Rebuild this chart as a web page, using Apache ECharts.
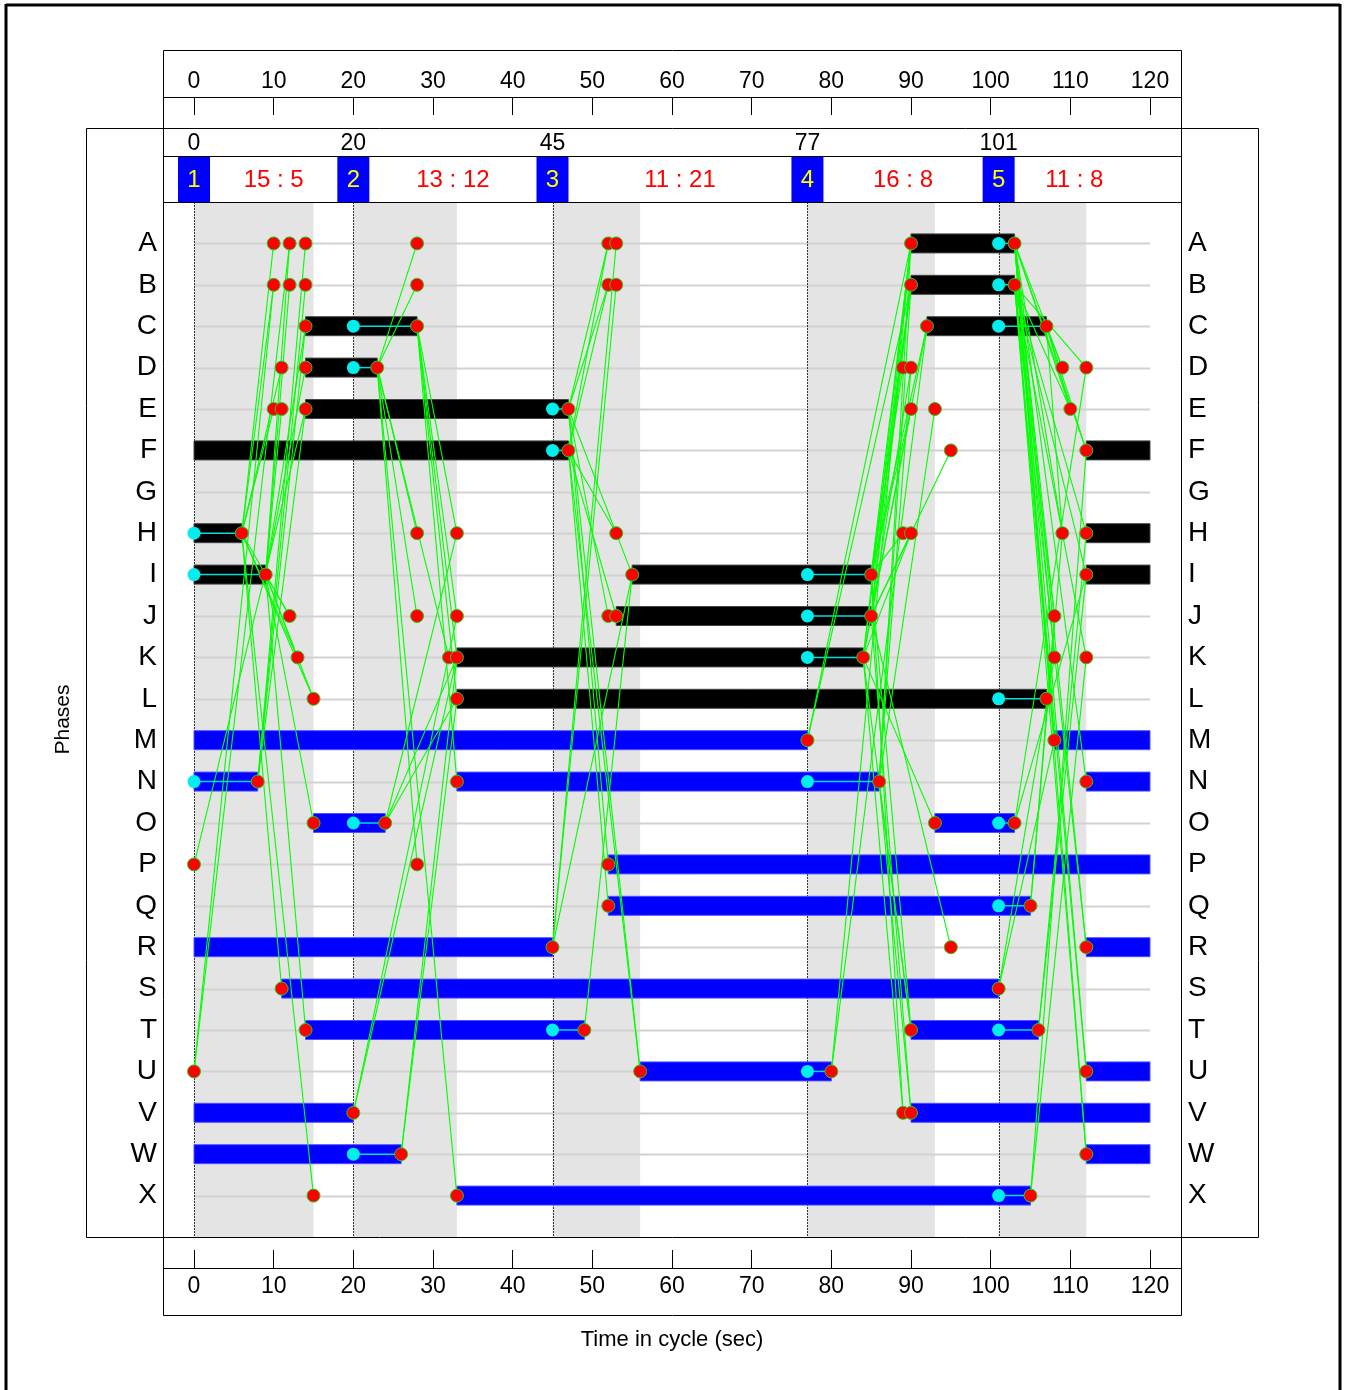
<!DOCTYPE html>
<html><head><meta charset="utf-8">
<script src="https://cdn.jsdelivr.net/npm/echarts/dist/echarts.min.js"></script>
<style>html,body{margin:0;padding:0;background:#fff}#c{width:1346px;height:1390px}</style>
</head><body><div id="c"></div>
<script>
// ---------------- DATA ----------------
const phases = ['A','B','C','D','E','F','G','H','I','J','K','L','M','N','O','P','Q','R','S','T','U','V','W','X'];
const trafficPhaseCount = 12; // A..L are traffic phases (black), M..X pedestrian (blue)
const cycleLength = 120;
const timeTicks = [0,10,20,30,40,50,60,70,80,90,100,110,120];
const stageNumbers = ['1','2','3','4','5'];
const stageStarts = [0,20,45,77,101];
const stageGreen = [15,13,11,16,11];
const stageIntergreen = [5,12,21,8,8];

// green periods per phase [phase, start, end]
const greenBars = [
  ['A',90,103],['B',90,103],
  ['C',14,28],['C',92,107],
  ['D',14,23],
  ['E',14,47],
  ['F',0,47],['F',112,120],
  ['H',0,6],['H',112,120],
  ['I',0,9],['I',55,85],['I',112,120],
  ['J',53,85],
  ['K',33,84],
  ['L',33,107],
  ['M',0,77],['M',108,120],
  ['N',0,8],['N',33,86],['N',112,120],
  ['O',15,24],['O',93,103],
  ['P',52,120],
  ['Q',52,105],
  ['R',0,45],['R',112,120],
  ['S',11,101],
  ['T',14,49],['T',90,106],
  ['U',56,80],['U',112,120],
  ['V',0,20],['V',90,120],
  ['W',0,26],['W',112,120],
  ['X',33,105]
];

// red event points per phase
const redDotTimes = [
  ['A',[10,12,14,28,52,53,90,103]],
  ['B',[10,12,14,28,52,53,90,103]],
  ['C',[14,28,92,107]],
  ['D',[11,14,23,89,90,109,112]],
  ['E',[10,11,14,47,90,93,110]],
  ['F',[47,95,112]],
  ['H',[6,28,33,53,89,90,109,112]],
  ['I',[9,55,85,112]],
  ['J',[12,28,33,52,53,85,108]],
  ['K',[13,32,33,84,108,112]],
  ['L',[15,33,107]],
  ['M',[77,108]],
  ['N',[8,33,86,112]],
  ['O',[15,24,93,103]],
  ['P',[0,28,52]],
  ['Q',[52,105]],
  ['R',[45,95,112]],
  ['S',[11,101]],
  ['T',[14,49,90,106]],
  ['U',[0,56,80,112]],
  ['V',[20,89,90]],
  ['W',[26,112]],
  ['X',[15,33,105]]
];

// cyan (stage start) to red (phase end) spans [phase, stageStart, phaseEnd]
const cyanSpans = [
  ['A',101,103],['B',101,103],['C',20,28],['C',101,107],['D',20,23],
  ['E',45,47],['F',45,47],['H',0,6],['I',0,9],['I',77,85],['J',77,85],
  ['K',77,84],['L',101,107],['N',0,8],['N',77,86],['O',20,24],['O',101,103],
  ['Q',101,105],['T',45,49],['T',101,106],['U',77,80],['W',20,26],['X',101,105]
];

// intergreen links [losingPhase, time, gainingPhase, time]
const links = [
  // stage 1 -> 2
  ['H',6,'A',10],['H',6,'B',10],['H',6,'E',10],['H',6,'D',11],['H',6,'J',12],['H',6,'K',13],
  ['H',6,'L',15],['H',6,'S',11],['H',6,'X',15],
  ['I',9,'A',12],['I',9,'B',12],['I',9,'E',11],['I',9,'C',14],['I',9,'D',14],['I',9,'J',12],
  ['I',9,'K',13],['I',9,'L',15],['I',9,'O',15],['I',9,'T',14],
  ['N',8,'A',14],['N',8,'B',14],['N',8,'C',14],['N',8,'E',14],
  ['U',0,'A',12],['U',0,'B',10],
  ['P',0,'E',14],
  // stage 2 -> 3
  ['D',23,'A',28],['D',23,'B',28],['D',23,'H',28],['D',23,'J',28],['D',23,'P',28],['D',23,'K',32],['D',23,'X',33],
  ['C',28,'H',33],['C',28,'J',33],['C',28,'K',33],['C',28,'L',33],['C',28,'N',33],
  ['O',24,'H',33],['O',24,'K',33],['O',24,'L',33],
  ['V',20,'J',33],['V',20,'K',33],
  ['W',26,'K',33],['W',26,'L',33],
  // stage 3
  ['E',47,'A',52],['E',47,'B',52],['F',47,'A',52],['F',47,'B',52],
  ['R',45,'A',53],['R',45,'B',53],
  ['E',47,'I',55],['F',47,'H',53],['E',47,'J',52],['F',47,'J',53],
  ['E',47,'P',52],['F',47,'Q',52],['E',47,'U',56],['F',47,'U',56],
  ['R',45,'I',55],['T',49,'I',55],
  // stage 4
  ['M',77,'A',90],['M',77,'B',90],
  ['U',80,'A',90],['U',80,'C',92],
  ['I',85,'A',90],['I',85,'B',90],['I',85,'D',89],['I',85,'E',90],['I',85,'H',89],['I',85,'C',92],['I',85,'T',90],['I',85,'V',89],
  ['J',85,'A',90],['J',85,'B',90],['J',85,'D',90],['J',85,'F',95],['J',85,'R',95],['J',85,'V',90],['J',85,'H',90],
  ['K',84,'A',90],['K',84,'B',90],['K',84,'C',92],['K',84,'E',90],['K',84,'H',90],['K',84,'O',93],['K',84,'T',90],['K',84,'V',89],
  ['N',86,'A',90],['N',86,'B',90],['N',86,'D',90],['N',86,'E',93],['N',86,'V',90],['N',86,'T',90],
  // stage 5
  ['A',103,'D',109],['A',103,'E',110],['A',103,'F',112],['A',103,'H',109],['A',103,'J',108],['A',103,'K',108],
  ['A',103,'M',108],['A',103,'N',112],['A',103,'R',112],['A',103,'U',112],['A',103,'W',112],
  ['B',103,'D',112],['B',103,'E',110],['B',103,'H',112],['B',103,'I',112],['B',103,'J',108],['B',103,'K',112],
  ['B',103,'M',108],['B',103,'R',112],['B',103,'U',112],['B',103,'W',112],
  ['C',107,'D',109],['C',107,'E',110],['C',107,'H',109],['C',107,'F',112],
  ['S',101,'M',108],['S',101,'K',108],
  ['Q',105,'J',108],['Q',105,'H',109],
  ['T',106,'H',112],['T',106,'I',112],
  ['X',105,'K',112],['X',105,'F',112],
  ['O',103,'I',112],['O',103,'D',112]
];

// ---------------- CHART ----------------
const FONT = '"Liberation Sans", Arial, sans-serif';
const idx = p => phases.indexOf(p);
const chart = echarts.init(document.getElementById('c'), null, {renderer: 'canvas'});

const barData = greenBars.map(b => [idx(b[0]), b[1], b[2]]);
const redData = [];
redDotTimes.forEach(([p, ts]) => ts.forEach(t => redData.push([t, idx(p)])));
const cyanDotData = cyanSpans.map(c => [c[1], idx(c[0])]);
const cyanLineData = cyanSpans.map(c => [c[1], idx(c[0]), c[2]]);
const linkData = links.map(l => [l[1], idx(l[0]), l[3], idx(l[2])]);
const shadeData = stageStarts.map((s, i) => [s, s + stageGreen[i]]);
const headerData = stageStarts.map((s, i) => [s, i + 1 < stageStarts.length ? stageStarts[i + 1] : cycleLength]);

const rowLabel = v => (v >= 0 && v < phases.length && Number.isInteger(v)) ? phases[v] : '';

const tickAxis = (gi, pos, extra) => Object.assign({
  type: 'value', gridIndex: gi, position: pos, min: 0, max: cycleLength, interval: 10,
  axisLine: {show: false, onZero: false},
  axisTick: {show: true, inside: true, length: 18, lineStyle: {color: '#000', width: 1}},
  axisLabel: {fontSize: 23, color: '#000', fontFamily: FONT, margin: pos === 'top' ? 4 : 7,
    formatter: v => timeTicks.includes(v) ? String(v) : ''},
  splitLine: {show: false}
}, extra || {});

const option = {
  animation: false,
  backgroundColor: '#fff',
  textStyle: {fontFamily: FONT},
  grid: [
    {left: 194, width: 956, top: 202, height: 1035},
    {left: 194, width: 956, top: 128, height: 74},
    {left: 194, width: 956, top: 97, height: 18},
    {left: 194, width: 956, top: 1250, height: 18}
  ],
  xAxis: [
    {type: 'value', gridIndex: 0, min: 0, max: cycleLength, show: false},
    {type: 'value', gridIndex: 1, min: 0, max: cycleLength, show: false},
    tickAxis(2, 'top'),
    tickAxis(3, 'bottom', {name: 'Time in cycle (sec)', nameLocation: 'middle', nameGap: 61,
      nameTextStyle: {fontSize: 22, color: '#000', fontFamily: FONT}})
  ],
  yAxis: [
    {type: 'value', gridIndex: 0, min: -1, max: 24, interval: 1, inverse: true, position: 'left',
      axisLine: {show: false}, axisTick: {show: false}, splitLine: {show: false},
      axisLabel: {fontSize: 28, color: '#000', margin: 37, fontFamily: FONT, formatter: rowLabel},
      name: 'Phases', nameLocation: 'middle', nameGap: 120, nameRotate: 90,
      nameTextStyle: {fontSize: 21, color: '#000', fontFamily: FONT}},
    {type: 'value', gridIndex: 0, min: -1, max: 24, interval: 1, inverse: true, position: 'right',
      axisLine: {show: false}, axisTick: {show: false}, splitLine: {show: false},
      axisLabel: {fontSize: 28, color: '#000', margin: 38, fontFamily: FONT, formatter: rowLabel}},
    {type: 'value', gridIndex: 1, min: 0, max: 1, show: false},
    {type: 'value', gridIndex: 2, min: 0, max: 1, show: false},
    {type: 'value', gridIndex: 3, min: 0, max: 1, show: false}
  ],
  series: [
    { // green-time shading
      type: 'custom', xAxisIndex: 0, yAxisIndex: 0, z: 1, silent: true,
      data: shadeData, encode: {x: [0, 1]},
      renderItem: (params, api) => {
        const p1 = api.coord([api.value(0), -1]);
        const p2 = api.coord([api.value(1), 24]);
        return {type: 'rect', shape: {x: p1[0], y: p1[1], width: p2[0] - p1[0], height: p2[1] - p1[1]},
          style: {fill: '#e4e4e4'}};
      }
    },
    { // row lines
      type: 'custom', xAxisIndex: 0, yAxisIndex: 0, z: 2, silent: true,
      data: phases.map((p, i) => [i]), encode: {y: 0},
      renderItem: (params, api) => {
        const r = api.value(0);
        const p1 = api.coord([0, r]), p2 = api.coord([cycleLength, r]);
        return {type: 'line', shape: {x1: p1[0], y1: Math.round(p1[1]) + 0.5, x2: p2[0], y2: Math.round(p2[1]) + 0.5},
          style: {stroke: '#d2d2d2', lineWidth: 2}};
      }
    },
    { // stage start dotted lines
      type: 'custom', xAxisIndex: 0, yAxisIndex: 0, z: 3, silent: true,
      data: stageStarts.map(s => [s]), encode: {x: 0},
      renderItem: (params, api) => {
        const p1 = api.coord([api.value(0), -1]), p2 = api.coord([api.value(0), 24]);
        const x = Math.round(p1[0]) + 0.5;
        return {type: 'line', shape: {x1: x, y1: p1[1], x2: x, y2: p2[1]},
          style: {stroke: '#333', lineWidth: 1, lineDash: [2, 1]}};
      }
    },
    { // phase green bars
      type: 'custom', xAxisIndex: 0, yAxisIndex: 0, z: 4, silent: true,
      data: barData, encode: {x: [1, 2], y: 0},
      renderItem: (params, api) => {
        const r = api.value(0);
        const p1 = api.coord([api.value(1), r]), p2 = api.coord([api.value(2), r]);
        const traffic = r < trafficPhaseCount;
        return {type: 'rect', shape: {x: p1[0], y: p1[1] - 9.5, width: p2[0] - p1[0], height: 19},
          style: {fill: traffic ? '#000' : '#0000ff', stroke: traffic ? '#444' : '#5050ff', lineWidth: 1}};
      }
    },
    { // cyan spans
      type: 'custom', xAxisIndex: 0, yAxisIndex: 0, z: 5, silent: true,
      data: cyanLineData, encode: {x: [0, 2], y: 1},
      renderItem: (params, api) => {
        const r = api.value(1);
        const p1 = api.coord([api.value(0), r]), p2 = api.coord([api.value(2), r]);
        return {type: 'line', shape: {x1: p1[0], y1: p1[1], x2: p2[0], y2: p2[1]},
          style: {stroke: '#00dddd', lineWidth: 1.5}};
      }
    },
    { // intergreen links
      type: 'custom', xAxisIndex: 0, yAxisIndex: 0, z: 6, silent: true,
      data: linkData, encode: {x: [0, 2], y: [1, 3]},
      renderItem: (params, api) => {
        const p1 = api.coord([api.value(0), api.value(1)]);
        const p2 = api.coord([api.value(2), api.value(3)]);
        return {type: 'line', shape: {x1: p1[0], y1: p1[1], x2: p2[0], y2: p2[1]},
          style: {stroke: '#00ff00', lineWidth: 1.1}};
      }
    },
    { // red event dots
      type: 'scatter', xAxisIndex: 0, yAxisIndex: 0, z: 7, silent: true,
      symbol: 'circle', symbolSize: 13, data: redData,
      itemStyle: {color: '#ff0000', borderColor: '#22cc22', borderWidth: 1, opacity: 1}
    },
    { // cyan stage-start dots
      type: 'scatter', xAxisIndex: 0, yAxisIndex: 0, z: 8, silent: true,
      symbol: 'circle', symbolSize: 13, data: cyanDotData,
      itemStyle: {color: '#00eeee', opacity: 1}
    },
    { // stage header
      type: 'custom', xAxisIndex: 1, yAxisIndex: 2, z: 9, silent: true,
      data: headerData, encode: {x: [0, 1]},
      renderItem: (params, api) => {
        const i = params.dataIndex;
        const cs = params.coordSys;
        const s = api.value(0), e = api.value(1);
        const x = api.coord([s, 0])[0];
        const xm = api.coord([(s + e) / 2, 0])[0];
        const f = '24px ' + FONT;
        return {type: 'group', children: [
          {type: 'rect', shape: {x: x - 16, y: cs.y + 28, width: 32, height: 46}, style: {fill: '#0000ff'}},
          {type: 'text', style: {text: stageNumbers[i], x: x, y: cs.y + 52, align: 'center', verticalAlign: 'middle', fill: '#ffff00', font: f}},
          {type: 'text', style: {text: String(s), x: x, y: cs.y + 16, align: 'center', verticalAlign: 'middle', fill: '#000', font: '23px ' + FONT}},
          {type: 'text', style: {text: stageGreen[i] + ' : ' + stageIntergreen[i], x: xm, y: cs.y + 52, align: 'center', verticalAlign: 'middle', fill: '#ff0000', font: f}}
        ]};
      }
    }
  ],
  graphic: [
    // figure border
    {type: 'line', z: 100, shape: {x1: 6, y1: 5, x2: 1340, y2: 5}, style: {stroke: '#000', lineWidth: 3}},
    {type: 'line', z: 100, shape: {x1: 6, y1: 4, x2: 6, y2: 1390}, style: {stroke: '#000', lineWidth: 3}},
    {type: 'line', z: 100, shape: {x1: 1340, y1: 4, x2: 1340, y2: 1390}, style: {stroke: '#000', lineWidth: 3}},
    // inner frame
    {type: 'rect', z: 100, shape: {x: 163.5, y: 50.5, width: 1018, height: 1265}, style: {fill: null, stroke: '#000', lineWidth: 1}},
    // outer phase box
    {type: 'rect', z: 100, shape: {x: 86.5, y: 128.5, width: 1172, height: 1109}, style: {fill: null, stroke: '#000', lineWidth: 1}},
    // header separators
    {type: 'line', z: 100, shape: {x1: 163, y1: 97.5, x2: 1181, y2: 97.5}, style: {stroke: '#000', lineWidth: 1}},
    {type: 'line', z: 100, shape: {x1: 163, y1: 156.5, x2: 1181, y2: 156.5}, style: {stroke: '#000', lineWidth: 1}},
    {type: 'line', z: 100, shape: {x1: 163, y1: 202.5, x2: 1181, y2: 202.5}, style: {stroke: '#000', lineWidth: 1}},
    {type: 'line', z: 100, shape: {x1: 163, y1: 1268.5, x2: 1181, y2: 1268.5}, style: {stroke: '#000', lineWidth: 1}}
  ]
};
chart.setOption(option);
</script>
</body></html>
